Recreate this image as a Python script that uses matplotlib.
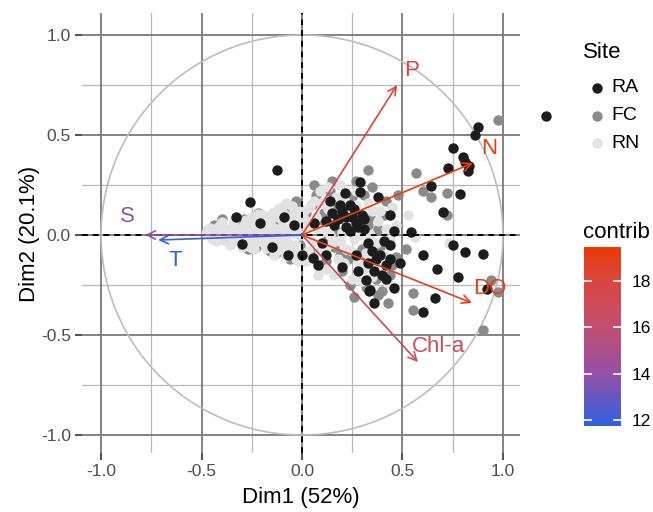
import matplotlib
matplotlib.use("Agg")
import matplotlib.pyplot as plt
import numpy as np
from matplotlib.colors import LinearSegmentedColormap, Normalize
from matplotlib.patches import Circle

plt.rcParams["font.family"] = ["Liberation Sans", "DejaVu Sans"]

# variable loadings (Dim1, Dim2) and contributions
var_names = ["P", "N", "DO", "Chl-a", "S", "T"]
var_dim1 = [0.473, 0.85, 0.846, 0.577, -0.78, -0.716]
var_dim2 = [0.75, 0.36, -0.34, -0.635, 0.0, -0.025]
var_contrib = [18.1, 19.48, 19.0, 16.9, 14.0, 11.74]

# individuals by site
ra_dim1 = [-0.124, -0.26, -0.33, -0.21, -0.15, -0.07, 0.0, -0.3, -0.09, -0.04,
           0.055, 0.08, 0.1, 0.12, 0.14, 0.15, 0.18, 0.2, 0.215, 0.22, 0.24, 0.25,
           0.27, 0.29, 0.29, 0.3, 0.31, 0.33, 0.35, 0.37, 0.378, 0.4, 0.41, 0.42,
           0.44, 0.44, 0.46, 0.46, 0.49, 0.333, 0.36, 0.28, 0.2, 0.32, 0.34, 0.54,
           0.6, 0.64, 0.66, 0.6, 0.67, 0.7, 0.726, 0.75, 0.75, 0.776, 0.786, 0.8,
           0.81, 0.81, 0.826, 0.86, 0.876, 0.9, 0.92, 0.83,
           0.16, 0.19, 0.22, 0.24, 0.26, 0.28, 0.31, 0.27, 0.36, 0.39, 0.42, 0.44,
           0.33, 0.12, 0.06]
ra_dim2 = [0.325, 0.165, 0.09, 0.06, -0.06, -0.1, -0.1, -0.045, 0.09, 0.05,
           -0.115, -0.15, -0.04, 0.07, 0.17, 0.11, 0.08, 0.12, 0.21, 0.04, 0.15, 0.09,
           0.06, 0.265, 0.215, 0.1, 0.03, -0.04, -0.08, -0.12, 0.19, -0.2, -0.03, -0.15,
           0.1, -0.05, 0.02, -0.265, -0.14, -0.28, -0.34, -0.18, -0.16, -0.225, -0.275, 0.015,
           -0.1, 0.245, -0.315, -0.385, -0.17, 0.115, 0.335, 0.435, -0.05, -0.21, 0.205, 0.39,
           0.365, -0.085, 0.32, 0.5, 0.54, -0.095, -0.27, 0.345,
           0.05, 0.15, 0.09, 0.02, 0.13, 0.04, 0.08, -0.1, -0.18, -0.1, -0.22, -0.12,
           -0.14, -0.1, 0.06]

fc_dim1 = [-0.44, -0.37, -0.29, -0.23, -0.19, -0.13, -0.08, -0.06, -0.03, -0.17,
           -0.11, -0.01, 0.02, 0.04, 0.07, 0.1, 0.12, 0.14, 0.16, 0.18, 0.2, 0.22,
           0.24, 0.26, 0.27, 0.29, 0.31, 0.32, 0.34, 0.36, 0.38, 0.4, 0.41, 0.44,
           0.47, 0.48, 0.33, 0.567, 0.6, 0.64, 0.72, 0.72, 0.55, 0.55, 0.94, 0.975,
           0.9, 0.975, 0.52, 0.26,
           0.05, 0.09, 0.11, 0.13, 0.17, 0.19, 0.21, 0.23, 0.25, 0.28, 0.3, 0.33,
           0.35, 0.37, 0.39, 0.42, 0.45, 0.06, 0.15, 0.38, 0.43,
           -0.4, -0.33, -0.27, -0.22, -0.16, -0.1, -0.05, -0.02]
fc_dim2 = [0.05, -0.02, 0.08, -0.06, 0.09, -0.09, 0.13, -0.12, 0.17, 0.02,
           0.06, -0.05, 0.11, -0.09, 0.2, 0.06, -0.13, 0.22, -0.06, 0.14, -0.18, 0.07,
           -0.25, 0.02, 0.27, -0.11, 0.2, -0.26, 0.09, -0.14, 0.03, -0.28, 0.1, -0.2,
           -0.11, 0.2, 0.325, 0.31, 0.22, 0.19, 0.21, 0.1, -0.29, -0.375, -0.225, -0.285,
           -0.475, 0.575, -0.07, -0.31,
           0.15, -0.15, 0.11, -0.02, 0.02, -0.1, 0.12, -0.12, 0.19, 0.1, -0.07, 0.05,
           0.24, -0.22, -0.06, 0.17, -0.15, 0.25, 0.27, -0.3, -0.34,
           0.08, 0.06, -0.07, 0.11, -0.08, 0.12, -0.1, 0.14]

rn_dim1 = [-0.48, -0.44, -0.405, -0.36, -0.32, -0.285, -0.24, -0.2, -0.165, -0.12,
           -0.08, -0.04, -0.46, -0.42, -0.38, -0.345, -0.30, -0.26, -0.22, -0.18,
           -0.14, -0.10, -0.06, -0.02, -0.43, -0.39, -0.35, -0.31, -0.27, -0.23,
           -0.19, -0.15, -0.11, -0.07, -0.03, -0.40, -0.34, -0.28, -0.22, -0.16,
           -0.10, -0.05, 0.0, -0.30, -0.24, -0.18, -0.12, -0.07, -0.02, -0.22,
           -0.15, -0.09, -0.04, 0.01, -0.14, -0.08, -0.03, -0.1, -0.05, -0.02,
           0.03, 0.05, 0.07, 0.09, 0.11, 0.13, 0.15, 0.16, 0.18, 0.2,
           0.22, 0.24, 0.26, 0.28, 0.3, 0.32, 0.34, 0.36, 0.38, 0.41,
           0.44, 0.12, 0.06, 0.21, 0.27, 0.35, 0.47, 0.53, 0.56, 0.73,
           0.02, 0.25, 0.09,
           0.04, 0.06, 0.08, 0.1, 0.12, 0.14, 0.17, 0.19, 0.21, 0.23, 0.25, 0.27,
           0.29, 0.31, 0.33, 0.35, 0.37, 0.39, 0.43, 0.45, 0.16, 0.08, 0.19, 0.03,
           0.01, 0.42, 0.3, 0.13,
           -0.47, -0.45, -0.41, -0.37, -0.33, -0.29, -0.25, -0.21, -0.17, -0.13,
           -0.09, -0.05, -0.01, -0.36, -0.26, -0.2, -0.12, -0.06, -0.01, -0.12,
           -0.25, -0.08, -0.03]
rn_dim2 = [0.01, 0.0, 0.015, -0.005, 0.0, 0.01, -0.01, 0.0, 0.005, -0.01,
           0.0, 0.01, 0.035, 0.04, 0.03, 0.045, 0.035, 0.04, 0.03, 0.045,
           0.035, 0.04, 0.03, 0.045, -0.03, -0.025, -0.035, -0.03, -0.04, -0.035,
           -0.04, -0.035, -0.045, -0.04, -0.05, 0.065, 0.07, 0.075, 0.07, 0.08,
           0.075, 0.085, 0.08, -0.06, -0.07, -0.065, -0.075, -0.07, -0.085, 0.105,
           0.11, 0.105, 0.115, 0.12, -0.1, -0.105, -0.11, 0.14, 0.145, -0.13,
           0.04, -0.03, 0.09, -0.08, 0.02, 0.13, -0.04, 0.06, -0.12, 0.01,
           -0.07, 0.1, -0.02, -0.13, 0.04, -0.09, 0.0, -0.17, 0.07, -0.1,
           -0.02, -0.17, 0.17, 0.18, 0.15, 0.12, 0.05, 0.1, -0.01, -0.04,
           -0.13, -0.22, 0.22,
           0.14, -0.12, 0.03, 0.16, -0.06, 0.0, 0.19, -0.03, -0.14, 0.06, -0.08, 0.22,
           0.0, -0.17, 0.16, -0.21, -0.04, 0.12, -0.24, 0.14, -0.2, -0.2, 0.25, -0.08,
           0.08, 0.03, -0.23, 0.24,
           0.03, -0.02, 0.05, 0.02, -0.01, 0.05, 0.02, -0.02, 0.06, 0.02,
           -0.02, 0.06, 0.0, -0.05, -0.06, 0.1, 0.09, -0.07, 0.12, 0.13,
           0.09, 0.16, -0.12]

# one RA point plotted beyond the panel in the original
stray_dim1 = [1.214]
stray_dim2 = [0.595]

site_names = ["RA", "FC", "RN"]
site_colors = ["#1c1c1c", "#8a8a8a", "#e2e2e2"]

W, H = 653, 512
fig = plt.figure(figsize=(W / 100, H / 100), dpi=100)
ax = fig.add_axes([82 / W, 1 - 453 / H, 438 / W, 440 / H])
ax.set_xlim(-1.095, 1.085)
ax.set_ylim(-1.09, 1.11)
for sp in ax.spines.values():
    sp.set_visible(False)

major = [-1.0, -0.5, 0.0, 0.5, 1.0]
minor = [-0.75, -0.25, 0.25, 0.75]
for v in minor:
    ax.axvline(v, color="#b8b8b8", lw=0.9, zorder=0)
    ax.axhline(v, color="#b8b8b8", lw=0.9, zorder=0)
for v in major:
    ax.axvline(v, color="#7a7a7a", lw=1.3, zorder=0)
    ax.axhline(v, color="#7a7a7a", lw=1.3, zorder=0)

ax.add_patch(Circle((0, 0), 1.0, fill=False, ec="#bdbdbd", lw=1.2, zorder=1))

pt_size = 56
ax.scatter(fc_dim1, fc_dim2, s=pt_size, color=site_colors[1], lw=0, zorder=2)
ax.scatter(rn_dim1, rn_dim2, s=pt_size, color=site_colors[2], lw=0, zorder=2)
ax.scatter(ra_dim1, ra_dim2, s=pt_size, color=site_colors[0], lw=0, zorder=2)
ax.scatter(stray_dim1, stray_dim2, s=pt_size, color=site_colors[0], lw=0, zorder=2,
           clip_on=False)

ax.axhline(0, color="black", lw=1.4, ls=(0, (3, 2.5)), zorder=3)
ax.axvline(0, color="black", lw=1.4, ls=(0, (3, 2.5)), zorder=3)

cmap = LinearSegmentedColormap.from_list(
    "contrib",
    [(0.0, "#2f62e0"), (0.29, "#9650a5"), (0.55, "#c24f72"),
     (0.81, "#da4640"), (1.0, "#ea3c05")])
norm = Normalize(vmin=min(var_contrib), vmax=max(var_contrib))

label_offsets = {"P": (0.074, 0.07), "N": (0.08, 0.075), "DO": (0.09, 0.075),
                 "Chl-a": (0.1, 0.075), "S": (-0.09, 0.09), "T": (0.086, -0.1)}
for name, x, y, c in zip(var_names, var_dim1, var_dim2, var_contrib):
    col = cmap(norm(c))
    ax.annotate("", xy=(x, y), xytext=(0, 0), zorder=4,
                arrowprops=dict(arrowstyle="->,head_length=0.6,head_width=0.3",
                                color=col, lw=1.2, shrinkA=0, shrinkB=0))
    dx, dy = label_offsets[name]
    ax.text(x + dx, y + dy, name, color=col, fontsize=16, ha="center",
            va="center", zorder=5)

ax.set_xticks(major)
ax.set_yticks(major)
ax.set_xticklabels([f"{v:.1f}" for v in major])
ax.set_yticklabels([f"{v:.1f}" for v in major])
ax.tick_params(direction="out", length=5, width=1.2, color="#333333",
               labelsize=12.5, labelcolor="#4d4d4d", pad=3)

fig.text(301 / W, 1 - 497 / H, "Dim1 (52%)", fontsize=16, ha="center", va="center")
fig.text(30 / W, 1 - 234 / H, "Dim2 (20.1%)", fontsize=16, ha="center",
         va="center", rotation=90)

# Site legend
fig.text(583 / W, 1 - 52 / H, "Site", fontsize=16, va="center")
lg = fig.add_axes([0, 0, 1, 1])
lg.set_xlim(0, W)
lg.set_ylim(H, 0)
lg.axis("off")
for name, col, yy in zip(site_names, site_colors, [88, 116, 143]):
    lg.scatter([597], [yy], s=56, color=col, lw=0)
    lg.text(611, yy, name, fontsize=14, va="center")

# contrib colour bar
fig.text(583 / W, 1 - 233 / H, "contrib", fontsize=16, va="center")
cax = fig.add_axes([584 / W, 1 - 426 / H, 37 / W, 179 / H])
grad = np.linspace(norm.vmin, norm.vmax, 256).reshape(-1, 1)
cax.imshow(grad, cmap=cmap, norm=norm, aspect="auto", origin="lower",
           extent=(0, 1, norm.vmin, norm.vmax))
cax.set_xlim(0, 1)
cax.set_ylim(norm.vmin, norm.vmax)
for sp in cax.spines.values():
    sp.set_visible(False)
cb_ticks = [12, 14, 16, 18]
for t in cb_ticks:
    cax.plot([0, 0.18], [t, t], color="white", lw=1.2)
    cax.plot([0.82, 1], [t, t], color="white", lw=1.2)
cax.set_xticks([])
cax.yaxis.tick_right()
cax.set_yticks(cb_ticks)
cax.tick_params(length=0, labelsize=12.5, pad=8)

fig.savefig("out.png", dpi=100)
